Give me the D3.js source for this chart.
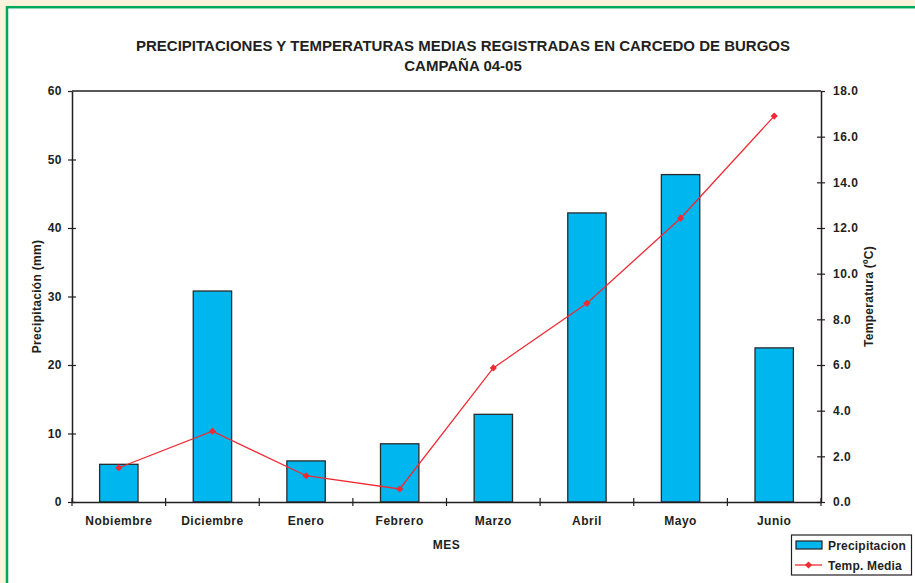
<!DOCTYPE html>
<html>
<head>
<meta charset="utf-8">
<script src="https://cdn.jsdelivr.net/npm/d3@7"></script>
<style>
  html, body { margin: 0; padding: 0; background: #fdf3dc; }
  svg { display: block; }
  text { font-family: "Liberation Sans", Arial, sans-serif; font-weight: bold; fill: #231f20; }
</style>
</head>
<body>
<svg id="chart" width="915" height="583"></svg>
<script>
const months = ["Nobiembre", "Diciembre", "Enero", "Febrero", "Marzo", "Abril", "Mayo", "Junio"];
const precipitation = [5.5, 30.8, 6.0, 8.5, 12.8, 42.2, 47.8, 22.5];
const temperature = [1.5, 3.1, 1.15, 0.57, 5.87, 8.7, 12.43, 16.9];
const precipTicks = [0, 10, 20, 30, 40, 50, 60];
const tempTicks = [0, 2, 4, 6, 8, 10, 12, 14, 16, 18];
const titleLines = ["PRECIPITACIONES Y TEMPERATURAS MEDIAS REGISTRADAS EN CARCEDO DE BURGOS", "CAMPAÑA 04-05"];
const legendLabels = ["Precipitacion", "Temp. Media"];

const svg = d3.select("#chart");
const W = 915, H = 583;
const m = { left: 72, right: 821, top: 91, bottom: 502 };

// frame
svg.append("rect").attr("x", 0).attr("y", 0).attr("width", W).attr("height", H).attr("fill", "#fdf3dc");
svg.append("rect").attr("x", 7).attr("y", 7.2).attr("width", W + 20).attr("height", H + 20)
  .attr("fill", "#ffffff").attr("stroke", "#00a85a").attr("stroke-width", 2.5);

const x = d3.scaleBand().domain(months).range([m.left, m.right]).paddingInner(0).paddingOuter(0);
const yL = d3.scaleLinear().domain([0, 60]).range([m.bottom, m.top]);
const yR = d3.scaleLinear().domain([0, 18]).range([m.bottom, m.top]);

// title
svg.append("g").selectAll("text").data(titleLines).join("text")
  .attr("x", 463).attr("y", (d, i) => 51 + i * 20)
  .attr("text-anchor", "middle").attr("font-size", 15).text(d => d);

// plot frame top line
svg.append("line").attr("x1", m.left).attr("x2", m.right).attr("y1", m.top).attr("y2", m.top)
  .attr("stroke", "#231f20").attr("stroke-width", 1.5);

// bars
const bw = x.bandwidth() * 0.41;
svg.append("g").selectAll("rect").data(months).join("rect")
  .attr("x", d => x(d) + x.bandwidth() / 2 - bw / 2)
  .attr("width", bw)
  .attr("y", (d, i) => yL(precipitation[i]))
  .attr("height", (d, i) => m.bottom - yL(precipitation[i]))
  .attr("fill", "#00b6ee").attr("stroke", "#2b2b2b").attr("stroke-width", 1.3);

// axes
function styleAxis(g) {
  g.selectAll(".domain").attr("stroke", "#231f20").attr("stroke-width", 1.5);
  g.selectAll(".tick line").attr("stroke", "#231f20").attr("stroke-width", 1.2);
  g.selectAll(".tick text").attr("font-size", 12).attr("font-family", "Liberation Sans, Arial, sans-serif")
    .attr("font-weight", "bold").attr("fill", "#231f20").attr("letter-spacing", 0.5);
}

const gL = svg.append("g").attr("transform", `translate(${m.left},0)`)
  .call(d3.axisLeft(yL).tickValues(precipTicks).tickSizeInner(4).tickSizeOuter(0).tickPadding(6).tickFormat(d3.format("d")));
styleAxis(gL);
gL.selectAll(".tick line").attr("x1", 4).attr("x2", -4);
gL.selectAll(".tick").filter(d => d === 60).select("line").attr("x1", 0);

const gR = svg.append("g").attr("transform", `translate(${m.right},0)`)
  .call(d3.axisRight(yR).tickValues(tempTicks).tickSizeInner(4).tickSizeOuter(0).tickPadding(8).tickFormat(d3.format(".1f")));
styleAxis(gR);
gR.selectAll(".tick line").attr("x1", -4).attr("x2", 4);
gR.selectAll(".tick").filter(d => d === 18).select("line").attr("x1", 0);

// x axis: ticks at category boundaries
const gX = svg.append("g").attr("transform", `translate(0,${m.bottom})`)
  .call(d3.axisBottom(x).tickSize(0).tickPadding(14));
styleAxis(gX);
gX.selectAll(".tick text").attr("dy", "0.71em");
const bounds = months.map(d => x(d)).concat([x(months[months.length - 1]) + x.bandwidth()]);
gX.append("g").selectAll("line").data(bounds).join("line")
  .attr("x1", d => d).attr("x2", d => d).attr("y1", -4).attr("y2", 4)
  .attr("stroke", "#231f20").attr("stroke-width", 1.2);

// axis titles
svg.append("text").attr("transform", `translate(41,${(m.top + m.bottom) / 2}) rotate(-90)`)
  .attr("text-anchor", "middle").attr("font-size", 12).attr("letter-spacing", 0.3).text("Precipitación (mm)");
svg.append("text").attr("transform", `translate(873,${(m.top + m.bottom) / 2}) rotate(-90)`)
  .attr("text-anchor", "middle").attr("font-size", 12).attr("letter-spacing", 0.3).text("Temperatura (ºC)");
svg.append("text").attr("x", (m.left + m.right) / 2).attr("y", 549)
  .attr("text-anchor", "middle").attr("font-size", 12).attr("letter-spacing", 0.5).text("MES");

// temperature line
const cx = d => x(d) + x.bandwidth() / 2;
const line = d3.line().x((d, i) => cx(months[i])).y(d => yR(d));
svg.append("path").datum(temperature).attr("d", line)
  .attr("fill", "none").attr("stroke", "#ee2b34").attr("stroke-width", 1.3);
const marker = d3.symbol().type(d3.symbolSquare).size(26);
svg.append("g").selectAll("path").data(temperature).join("path")
  .attr("transform", (d, i) => `translate(${cx(months[i])},${yR(d)}) rotate(45)`)
  .attr("d", marker).attr("fill", "#ee2b34");

// legend
const lg = svg.append("g");
lg.append("rect").attr("x", 791.5).attr("y", 535).attr("width", 120).attr("height", 40)
  .attr("fill", "#fff").attr("stroke", "#231f20").attr("stroke-width", 1.2);
lg.append("rect").attr("x", 796).attr("y", 541).attr("width", 26).attr("height", 8)
  .attr("fill", "#00b6ee").attr("stroke", "#231f20").attr("stroke-width", 1.2);
lg.append("line").attr("x1", 795).attr("x2", 822).attr("y1", 565).attr("y2", 565)
  .attr("stroke", "#ee2b34").attr("stroke-width", 1.3);
lg.append("path").attr("transform", "translate(808.5,565) rotate(45)").attr("d", marker).attr("fill", "#ee2b34");
lg.selectAll("text.lab").data(legendLabels).join("text").attr("class", "lab")
  .attr("x", 828).attr("y", (d, i) => 549.5 + i * 20).attr("font-size", 12).attr("letter-spacing", 0.2).text(d => d);
</script>
</body>
</html>
